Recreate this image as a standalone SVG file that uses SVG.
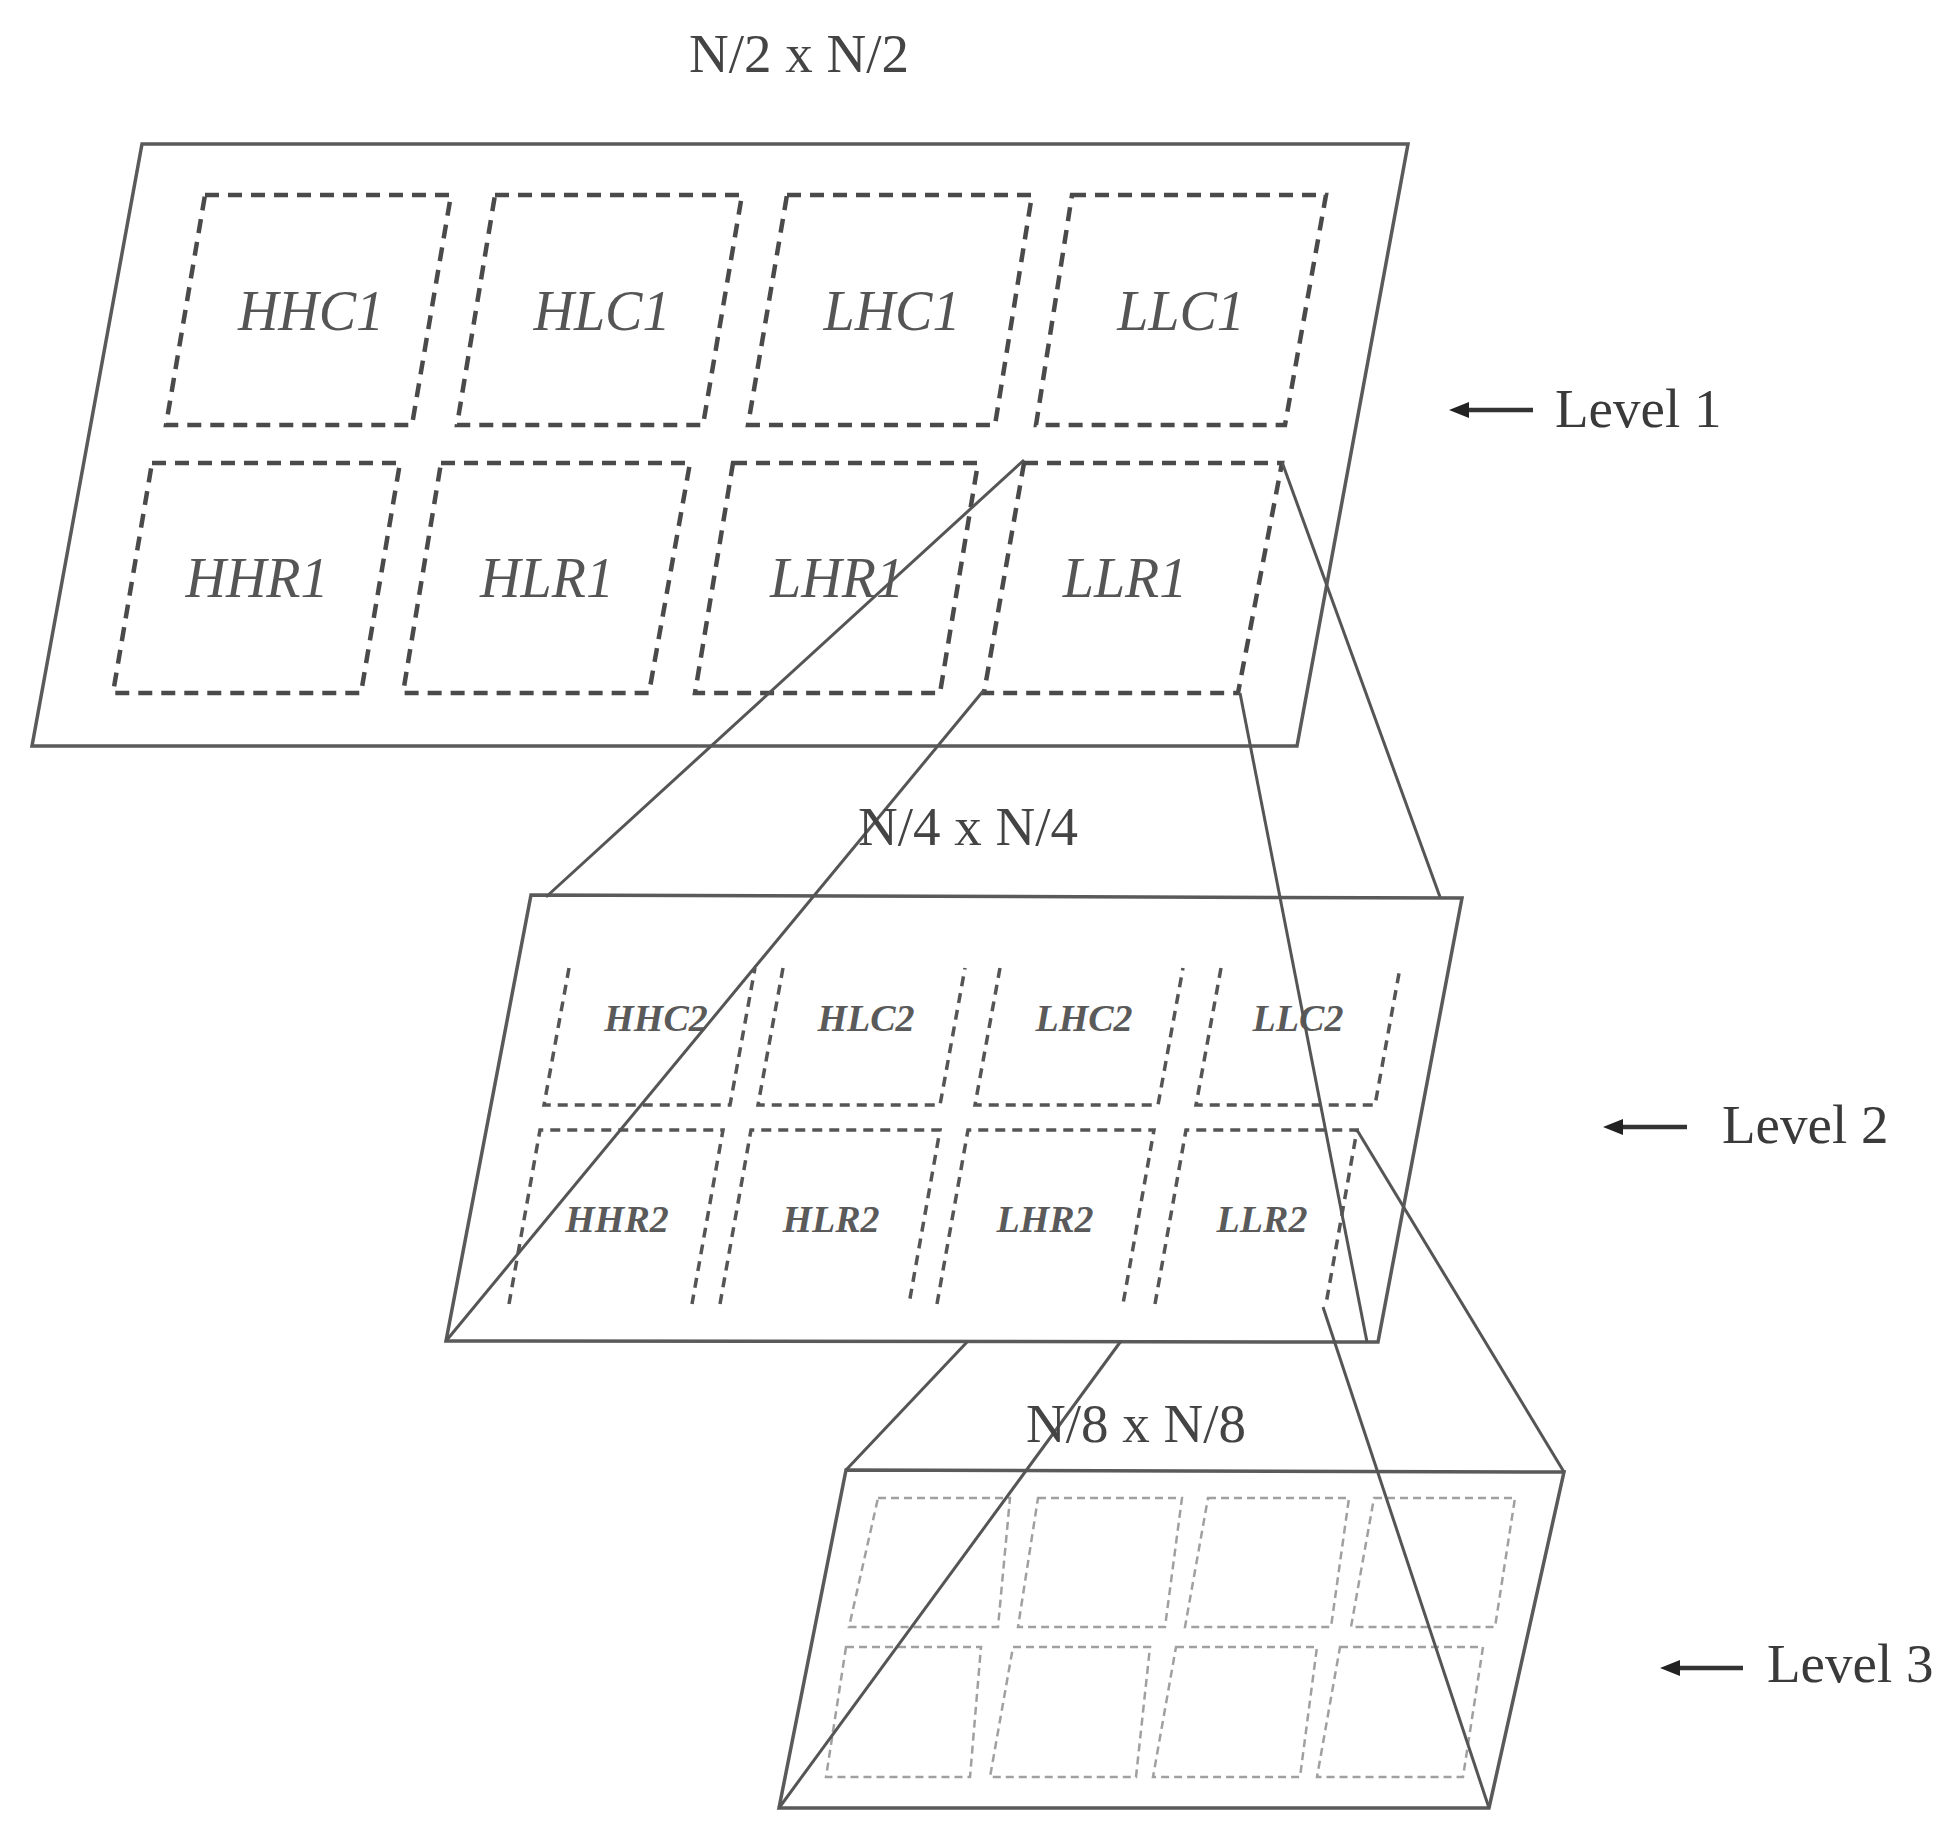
<svg xmlns="http://www.w3.org/2000/svg" width="1950" height="1844" viewBox="0 0 1950 1844">
<defs>
<style>
.plane{fill:none;stroke:#5a5a5a;stroke-width:3.5;stroke-linejoin:miter}
.d1{fill:none;stroke:#4a4a4a;stroke-width:4.5;stroke-dasharray:14 9}
.d2{fill:none;stroke:#555;stroke-width:3.5;stroke-dasharray:10 7}
.d3{fill:none;stroke:#a0a0a0;stroke-width:2.5;stroke-dasharray:8 5}
.conn{fill:none;stroke:#555;stroke-width:3}
.t1{font-family:"Liberation Serif",serif;font-style:italic;font-size:56px;fill:#555;text-anchor:middle}
.t2{font-family:"Liberation Serif",serif;font-style:italic;font-weight:bold;font-size:38px;fill:#5a5a5a;text-anchor:middle}
.title{font-family:"Liberation Serif",serif;font-size:55px;fill:#444;text-anchor:middle}
.lvl{font-family:"Liberation Serif",serif;font-size:55px;fill:#3a3a3a}
.arr{stroke:#333;stroke-width:4.5;fill:none}
</style>
<marker id="ah" markerWidth="22" markerHeight="18" refX="0" refY="8" orient="auto" markerUnits="userSpaceOnUse">
<path d="M0,0 L20,8 L0,16 Z" fill="#222"/>
</marker>
</defs>
<rect width="1950" height="1844" fill="#fff"/>

<g id="level1">
<polygon class="plane" points="142,144 1408,144 1297,746 32,746"/>
<polygon class="d1" points="205,195 451,195 412,425 166,425"/>
<polygon class="d1" points="495,195 742,195 703,425 457,425"/>
<polygon class="d1" points="787,195 1032,195 995,425 748,425"/>
<polygon class="d1" points="1072,195 1326,195 1285,425 1036,425"/>
<polygon class="d1" points="152,463 400,463 361,693 113,693"/>
<polygon class="d1" points="441,463 690,463 649,693 403,693"/>
<polygon class="d1" points="733,463 978,463 940,693 695,693"/>
<polygon class="d1" points="1024,463 1282,463 1238,693 984,693"/>
<text class="t1" x="311" y="330">HHC1</text>
<text class="t1" x="602" y="330">HLC1</text>
<text class="t1" x="892" y="330">LHC1</text>
<text class="t1" x="1181" y="330">LLC1</text>
<text class="t1" x="257" y="597">HHR1</text>
<text class="t1" x="547" y="597">HLR1</text>
<text class="t1" x="837" y="597">LHR1</text>
<text class="t1" x="1125" y="597">LLR1</text>
</g>

<g id="level2">
<polygon class="plane" points="531,895 1462,898 1378,1342 446,1341"/>
<path class="d2" d="M569 968 L544 1105 L730 1105 L755 968"/>
<path class="d2" d="M783 968 L758 1105 L940 1105 L965 968"/>
<path class="d2" d="M1000 968 L975 1105 L1158 1105 L1183 968"/>
<path class="d2" d="M1221 968 L1196 1105 L1375 1105 L1400 968"/>
<path class="d2" d="M509 1304 L540 1130 L723 1130 L692 1304"/>
<path class="d2" d="M720 1304 L751 1130 L940 1130 L909 1304"/>
<path class="d2" d="M937 1304 L968 1130 L1154 1130 L1123 1304"/>
<path class="d2" d="M1155 1304 L1186 1130 L1357 1130 L1326 1304"/>
<text class="t2" x="656" y="1031">HHC2</text>
<text class="t2" x="866" y="1031">HLC2</text>
<text class="t2" x="1084" y="1031">LHC2</text>
<text class="t2" x="1298" y="1031">LLC2</text>
<text class="t2" x="617" y="1232">HHR2</text>
<text class="t2" x="831" y="1232">HLR2</text>
<text class="t2" x="1045" y="1232">LHR2</text>
<text class="t2" x="1262" y="1232">LLR2</text>
</g>

<g id="level3">
<polygon class="plane" points="846,1470 1564,1472 1489,1808 779,1808"/>
<polygon class="d3" points="878,1498 1010,1498 998,1627 849,1627"/>
<polygon class="d3" points="1038,1498 1182,1498 1165,1627 1018,1627"/>
<polygon class="d3" points="1208,1498 1349,1498 1331,1627 1185,1627"/>
<polygon class="d3" points="1374,1498 1515,1498 1495,1627 1351,1627"/>
<polygon class="d3" points="846,1647 981,1647 970,1777 826,1777"/>
<polygon class="d3" points="1013,1647 1150,1647 1136,1777 990,1777"/>
<polygon class="d3" points="1176,1647 1317,1647 1300,1777 1153,1777"/>
<polygon class="d3" points="1340,1647 1483,1647 1463,1777 1317,1777"/>
</g>

<g id="connectors">
<line class="conn" x1="1024" y1="460" x2="546" y2="897"/>
<line class="conn" x1="984" y1="690" x2="446" y2="1341"/>
<line class="conn" x1="1282" y1="462" x2="1440" y2="897"/>
<line class="conn" x1="1240" y1="693" x2="1367" y2="1342"/>
<line class="conn" x1="968" y1="1341" x2="846" y2="1470"/>
<line class="conn" x1="1121" y1="1341" x2="779" y2="1808"/>
<line class="conn" x1="1357" y1="1130" x2="1564" y2="1472"/>
<line class="conn" x1="1323" y1="1307" x2="1489" y2="1808"/>
</g>

<g id="titles">
<text class="title" x="799" y="72">N/2 x N/2</text>
<text class="title" x="968" y="845">N/4 x N/4</text>
<text class="title" x="1136" y="1442">N/8 x N/8</text>
</g>

<g id="level-labels">
<line class="arr" x1="1533" y1="410" x2="1469" y2="410" marker-end="url(#ah)"/>
<text class="lvl" x="1555" y="427">Level 1</text>
<line class="arr" x1="1687" y1="1127" x2="1623" y2="1127" marker-end="url(#ah)"/>
<text class="lvl" x="1722" y="1143">Level 2</text>
<line class="arr" x1="1743" y1="1668" x2="1680" y2="1668" marker-end="url(#ah)"/>
<text class="lvl" x="1767" y="1682">Level 3</text>
</g>
</svg>
